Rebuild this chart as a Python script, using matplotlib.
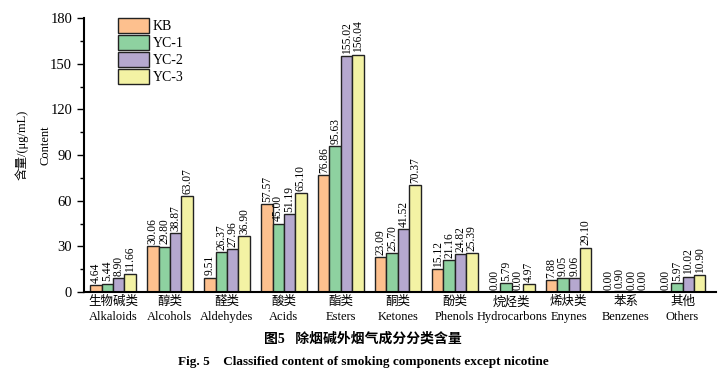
import matplotlib.pyplot as plt
import numpy as np

plt.rcParams['font.family'] = ['Liberation Serif', 'Noto Sans CJK SC']
plt.rcParams['mathtext.fontset'] = 'stix'

cats_cn = ["生物碱类", "醇类", "醛类", "酸类", "酯类", "酮类", "酚类", "烷烃类", "烯炔类", "苯系", "其他"]
cats_en = ["Alkaloids", "Alcohols", "Aldehydes", "Acids", "Esters", "Ketones", "Phenols",
           "Hydrocarbons", "Enynes", "Benzenes", "Others"]
kb = [4.64, 30.06, 9.51, 57.57, 76.86, 23.09, 15.12, 0.00, 7.88, 0.00, 0.00]
yc1 = [5.44, 29.80, 26.37, 45.00, 95.63, 25.70, 21.16, 5.79, 9.05, 0.90, 5.97]
yc2 = [8.90, 38.87, 27.96, 51.19, 155.02, 41.52, 24.82, 0.00, 9.06, 0.00, 10.02]
yc3 = [11.66, 63.07, 36.90, 65.10, 156.04, 70.37, 25.39, 4.97, 29.10, 0.00, 10.90]
series = ["KB", "YC-1", "YC-2", "YC-3"]
colors = ["#FDC08E", "#8ED1A0", "#B5A8CF", "#F3F2A4"]

fig = plt.figure(figsize=(7.26, 3.76), dpi=100)
ax = fig.add_axes([0.1157, 0.2234, 0.870, 0.7286])

x = np.arange(len(cats_cn))
w = 0.2
for i, (name, vals) in enumerate(zip(series, [kb, yc1, yc2, yc3])):
    pos = x + (i - 1.5) * w
    ax.bar(pos, vals, w, color=colors[i], edgecolor="#222222", linewidth=1.0, label=name)
    for p, v in zip(pos, vals):
        ax.text(p, v + 1.5, f"{v:.2f}", rotation=90, ha="center", va="bottom", fontsize=8.3)

ax.set_xlim(-0.51, 10.58)
ax.set_ylim(0, 180)
ax.set_yticks(np.arange(0, 181, 30))
ax.set_yticks(np.arange(15, 180, 30), minor=True)
ax.set_xticks(x)
ax.set_xticklabels([c + "\n" + e for c, e in zip(cats_cn, cats_en)], fontsize=9, linespacing=1.3)
ax.tick_params(axis="x", length=0, pad=3)
ax.tick_params(axis="y", which="major", length=5, width=1, labelsize=10.5, direction="out")
ax.tick_params(axis="y", which="minor", length=3, width=1, direction="out")
for s in ["top", "right"]:
    ax.spines[s].set_visible(False)
for s in ["left", "bottom"]:
    ax.spines[s].set_linewidth(1.5)

fig.text(0.030, 0.615, "含量/(μg/mL)", rotation=90, ha="center", va="center", fontsize=9)
fig.text(0.062, 0.615, "Content", rotation=90, ha="center", va="center", fontsize=9)

ax.legend(loc="upper left", bbox_to_anchor=(0.045, 1.02), frameon=False, fontsize=10,
          handlelength=2.2, handleheight=1.3, labelspacing=0.12, handletextpad=0.3,
          borderaxespad=0)

fig.text(0.50, 0.098, "图5   除烟碱外烟气成分分类含量", ha="center", va="center",
         fontsize=10, fontweight="bold")
fig.text(0.50, 0.037, "Fig. 5    Classified content of smoking components except nicotine",
         ha="center", va="center", fontsize=9.5, fontweight="bold")

fig.savefig("out.png", dpi=100)
